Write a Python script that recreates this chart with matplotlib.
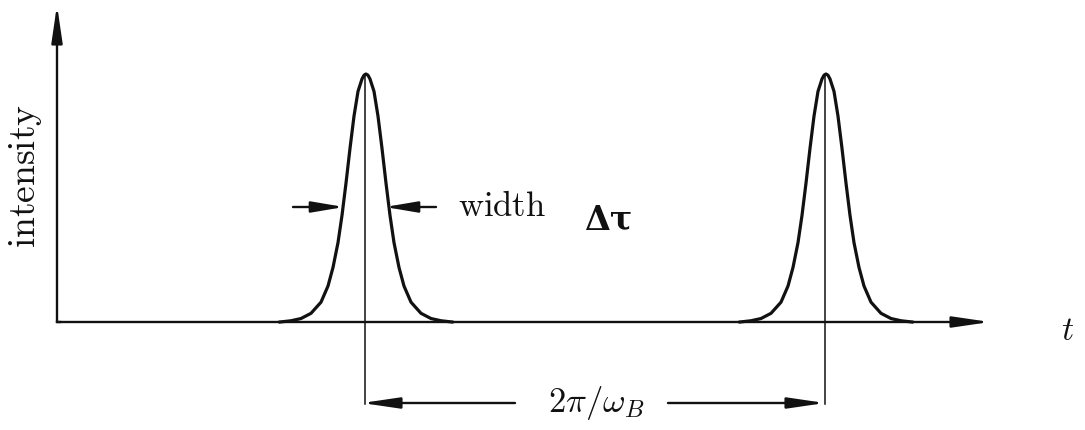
import matplotlib.pyplot as plt
import numpy as np

plt.rcParams['mathtext.fontset'] = 'cm'

# pulse profile: offset from pulse centre (px) and relative height
half_offsets = [0, 2, 4, 8, 12, 16, 20, 24, 28, 33, 38, 45, 55, 65, 75, 86]
half_levels = [1.00, 0.995, 0.98, 0.93, 0.83, 0.70, 0.56, 0.43, 0.32, 0.22, 0.145, 0.08, 0.035, 0.014, 0.005, 0.0]
pulse_centers = [366, 826]
pulse_peak = 248      # height of a pulse above the time axis
baseline = 322

width_label = r'$\mathrm{width}$'
tau_label = 'Δτ'
period_label = r'$2\pi/\omega_B$'
y_label = r'$\mathrm{intensity}$'
x_label = r'$t$'

offsets = np.concatenate([-np.array(half_offsets[::-1]), np.array(half_offsets[1:])])
levels = np.concatenate([np.array(half_levels[::-1]), np.array(half_levels[1:])])

fig = plt.figure(figsize=(10.85, 4.3), dpi=100)
ax = fig.add_axes([0, 0, 1, 1])
ax.set_xlim(0, 1085)
ax.set_ylim(430, 0)
ax.axis('off')

def arrow(x0, y0, x1, y1, hl=1.5, lw=1.7):
    ax.annotate('', xy=(x1, y1), xytext=(x0, y0),
                arrowprops=dict(arrowstyle=f'-|>,head_length={hl},head_width=0.22',
                                mutation_scale=15, lw=lw, color='#111111',
                                shrinkA=0, shrinkB=0))

# axes
arrow(57, baseline, 57, 5)
arrow(57, baseline, 990, baseline)
ax.plot([57, 60], [baseline, baseline], color='#111111', lw=1.7)

# pulses
for c in pulse_centers:
    ax.plot(c + offsets, baseline - levels * pulse_peak, color='#111111', lw=2.3,
            solid_joinstyle='round')
    ax.plot([c - 1, c - 1], [baseline - pulse_peak, 404], color='#111111', lw=1.1)

# width marker
hy = 207
arrow(293, hy, 344, hy, hl=1.3)
arrow(436, hy, 385, hy, hl=1.3)
ax.text(458, 206, width_label, fontsize=25, ha='left', va='center', color='#111111')
ax.text(584, 220, tau_label, fontsize=24, fontweight='bold', family='DejaVu Serif',
        ha='left', va='center', color='#111111')

# period marker
py = 403
arrow(515, py, pulse_centers[0] - 4, py)
arrow(668, py, pulse_centers[1] - 1, py)
ax.text(596, 403, period_label, fontsize=25, ha='center', va='center', color='#111111')

ax.text(26, 176, y_label, fontsize=27, rotation=90, ha='center', va='center', color='#111111')
ax.text(1068, 330, x_label, fontsize=24, ha='center', va='center', color='#111111')

fig.savefig('out.png', dpi=100)
